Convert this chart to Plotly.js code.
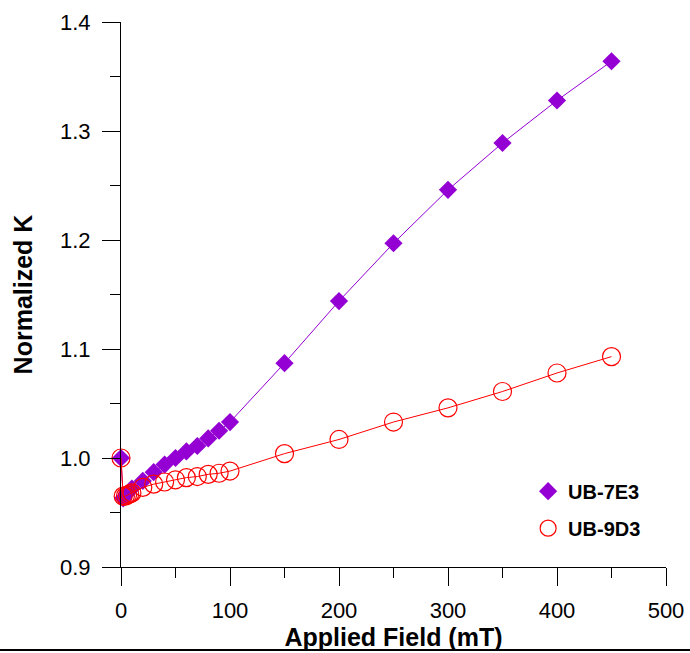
<!DOCTYPE html>
<html>
<head>
<meta charset="utf-8">
<script src="https://cdn.plot.ly/plotly-3.0.1.min.js"></script>
<style>html,body{margin:0;padding:0;background:#fff;}#chart{width:690px;height:653px;}</style>
</head>
<body>
<div id="chart"></div>
<script>
// Series UB-7E3 (filled purple diamonds)
const fieldA = [0, 2, 5, 10, 20, 30, 40, 50, 60, 70, 80, 90, 100, 150, 200, 250, 300, 350, 400, 450];
const kA = [1.000, 0.963, 0.967, 0.972, 0.979, 0.987, 0.994, 1.000, 1.006, 1.011, 1.018, 1.025, 1.033, 1.087, 1.144, 1.197, 1.246, 1.289, 1.328, 1.364];
// Series UB-9D3 (open red circles)
const fieldB = [0, 2, 4, 6, 8, 10, 20, 30, 40, 50, 60, 70, 80, 90, 100, 150, 200, 250, 300, 350, 400, 450];
const kB = [1.000, 0.965, 0.965, 0.966, 0.967, 0.968, 0.973, 0.976, 0.978, 0.980, 0.982, 0.983, 0.985, 0.986, 0.988, 1.004, 1.017, 1.033, 1.046, 1.061, 1.078, 1.093];
const seriesNames = ['UB-7E3', 'UB-9D3'];
const xTitle = 'Applied Field (mT)';
const yTitle = 'Normalized K';

const FONT = 'Liberation Sans, Arial, Helvetica, sans-serif';
const PURPLE = '#9400D3';
const RED = '#FF0000';

const traces = [
  {x: fieldA, y: kA, mode: 'lines', line: {color: PURPLE, width: 1}, showlegend: false, cliponaxis: false, hoverinfo: 'skip'},
  {x: fieldA, y: kA, mode: 'markers', name: seriesNames[0], marker: {symbol: 'diamond', size: 14, color: PURPLE}, cliponaxis: false, legendgroup: 'a'},
  {x: fieldB, y: kB, mode: 'lines', line: {color: RED, width: 1}, showlegend: false, cliponaxis: false, hoverinfo: 'skip'},
  {x: fieldB, y: kB, mode: 'markers', name: seriesNames[1], marker: {symbol: 'circle-open', size: 18, color: RED, line: {width: 1.2, color: RED}}, cliponaxis: false, legendgroup: 'b'}
];

const axisCommon = {
  showline: true, linecolor: '#000', linewidth: 1,
  ticks: 'outside', ticklen: 18, tickwidth: 1, tickcolor: '#000',
  showgrid: false, zeroline: false, mirror: false,
  tickfont: {family: FONT, size: 22, color: '#000'}
};

const layout = {
  width: 690, height: 653,
  margin: {l: 121, r: 24, t: 22, b: 86, pad: 0},
  paper_bgcolor: '#fff', plot_bgcolor: '#fff',
  font: {family: FONT, color: '#000'},
  xaxis: Object.assign({}, axisCommon, {
    range: [0, 500], dtick: 100, tick0: 0,
    minor: {dtick: 50, ticks: 'outside', ticklen: 10, tickwidth: 1, tickcolor: '#000', showgrid: false},
    ticklabelstandoff: 6,
    title: {text: xTitle, font: {family: FONT, size: 25, weight: 'bold', color: '#000'}, standoff: 4}
  }),
  yaxis: Object.assign({}, axisCommon, {
    range: [0.9, 1.4], dtick: 0.1, tick0: 0.9, tickformat: '.1f',
    minor: {dtick: 0.05, ticks: 'outside', ticklen: 10, tickwidth: 1, tickcolor: '#000', showgrid: false},
    ticklabelstandoff: 7,
    title: {text: yTitle, font: {family: FONT, size: 25, weight: 'bold', color: '#000'}, standoff: 20}
  }),
  showlegend: true,
  legend: {
    x: 0.747, y: 0.175, xanchor: 'left', yanchor: 'top',
    bgcolor: 'rgba(0,0,0,0)', borderwidth: 0,
    font: {family: FONT, size: 20, weight: 'bold', color: '#000'},
    traceorder: 'grouped', tracegroupgap: 8, itemsizing: 'trace'
  },
  shapes: [
    {type: 'line', xref: 'paper', yref: 'paper', x0: -0.23, x1: 1.05, y0: -0.1523, y1: -0.1523, line: {color: '#000', width: 2}}
  ]
};

Plotly.newPlot('chart', traces, layout, {displayModeBar: false, staticPlot: true});
</script>
</body>
</html>
